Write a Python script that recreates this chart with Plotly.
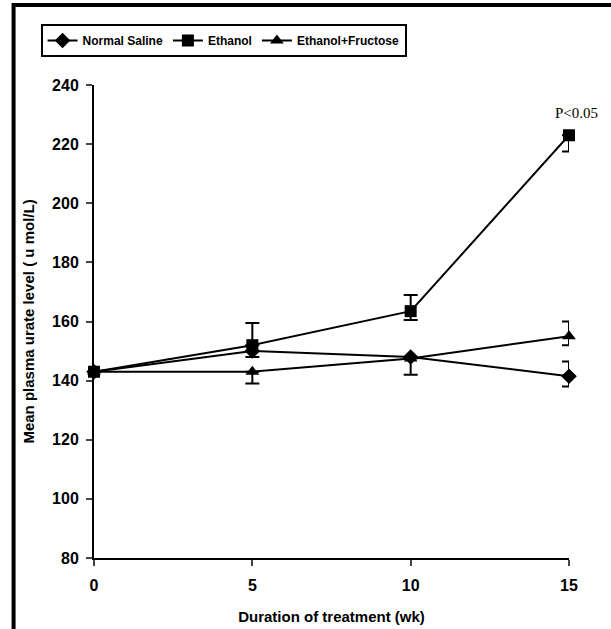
import plotly.graph_objects as go

weeks = [0, 5, 10, 15]

saline = [143, 150, 148, 141.5]
saline_plus = [0, 0, 0, 5]
saline_minus = [0, 2, 0, 3.5]

ethanol = [143, 152, 163.5, 223]
ethanol_plus = [0, 7.5, 5.5, 0]
ethanol_minus = [0, 0, 3, 5.5]

fructose = [143, 143, 147.5, 155]
fructose_plus = [0, 0, 0, 5]
fructose_minus = [0, 4, 5.5, 3]

series = [
    ("Normal Saline", saline, saline_plus, saline_minus, "diamond", 12),
    ("Ethanol", ethanol, ethanol_plus, ethanol_minus, "square", 12),
    ("Ethanol+Fructose", fructose, fructose_plus, fructose_minus, "triangle-up", 12),
]

x_ticks = [0, 5, 10, 15]
y_ticks = [80, 100, 120, 140, 160, 180, 200, 220, 240]

W, H = 611, 629
L, R, T, B = 93.5, 42, 85, 71.3
pw, ph = W - L - R, H - T - B

fig = go.Figure()
for name, vals, plus, minus, sym, size in series:
    fig.add_trace(go.Scatter(
        x=weeks, y=vals, name=name, mode="lines+markers",
        line=dict(color="black", width=2),
        marker=dict(symbol=sym, size=size, color="black"),
        error_y=dict(type="data", symmetric=False, array=plus, arrayminus=minus,
                     color="black", thickness=2, width=7),
        cliponaxis=False,
    ))

fig.add_annotation(x=15, y=223, text="P<0.05", showarrow=False, yshift=22, xshift=7,
                   font=dict(family="Liberation Serif", size=15, color="black"))


def px2paper_x(p):
    return (p - L) / pw


def py2paper_y(p):
    return (H - B - p) / ph


# outer frame (left and top edges): rectangle running off the right and bottom of the page
fig.add_shape(type="rect", xref="paper", yref="paper", layer="above",
              x0=px2paper_x(13), x1=px2paper_x(640), y0=py2paper_y(5), y1=py2paper_y(660),
              line=dict(color="black", width=4), fillcolor="rgba(0,0,0,0)")

fig.update_layout(
    width=W, height=H,
    margin=dict(l=L, r=R, t=T, b=B, pad=0, autoexpand=False),
    paper_bgcolor="white", plot_bgcolor="white",
    font=dict(family="Liberation Sans", color="black"),
    showlegend=True,
    legend=dict(orientation="h", x=px2paper_x(40), y=py2paper_y(24), xanchor="left", yanchor="top",
                bordercolor="black", borderwidth=2, bgcolor="white",
                font=dict(family="Liberation Sans", size=12, color="black", weight="bold"),
                itemwidth=30, tracegroupgap=0),
    xaxis=dict(range=[0, 15], tickvals=x_ticks, ticks="outside", ticklen=6, tickwidth=2,
               showline=True, linecolor="black", linewidth=2, showgrid=False, zeroline=False,
               tickfont=dict(size=16, weight="bold"), ticklabelstandoff=6,
               title=dict(text="Duration of treatment (wk)", font=dict(size=15, weight="bold"), standoff=18)),
    yaxis=dict(range=[80, 240], tickvals=y_ticks, ticks="outside", ticklen=6, tickwidth=2,
               showline=True, linecolor="black", linewidth=2, showgrid=False, zeroline=False,
               tickfont=dict(size=16, weight="bold"), ticklabelstandoff=4,
               title=dict(text="Mean plasma urate level ( u mol/L)", font=dict(size=15, weight="bold"), standoff=14)),
)

fig.write_html("out.html", config={"displayModeBar": False},
               post_script="document.body.style.margin='0';")
